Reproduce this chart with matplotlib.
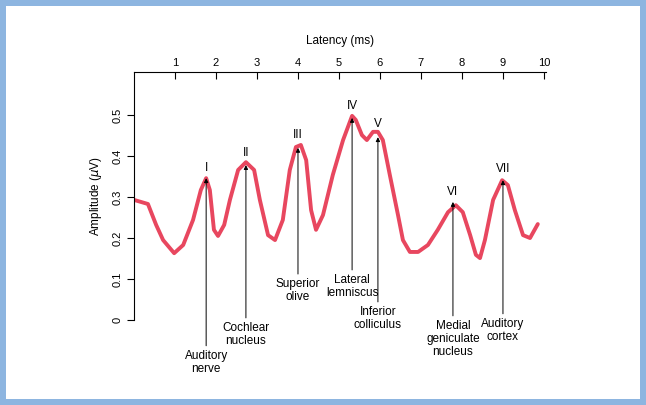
import matplotlib.pyplot as plt
from matplotlib.patches import Rectangle

plt.rcParams['font.family'] = ['Liberation Sans', 'DejaVu Sans']

# waveform
latency = [0, .34, .54, .71, .98, 1.20, 1.44, 1.63, 1.76, 1.85, 1.95, 2.05, 2.20, 2.34, 2.54,
           2.73, 2.93, 3.07, 3.27, 3.44, 3.63, 3.80, 3.95, 4.07, 4.20, 4.32, 4.44, 4.61, 4.85,
           5.10, 5.32, 5.41, 5.56, 5.68, 5.83, 5.95, 6.07, 6.24, 6.44, 6.56, 6.73, 6.93, 7.17,
           7.41, 7.66, 7.85, 8.02, 8.20, 8.34, 8.44, 8.56, 8.76, 8.98, 9.12, 9.29, 9.49, 9.66, 9.85]
amplitude = [.293, .283, .232, .195, .163, .183, .244, .317, .346, .317, .22, .205, .232, .293,
             .366, .385, .366, .293, .207, .195, .244, .366, .422, .427, .39, .268, .22, .256,
             .354, .439, .498, .488, .451, .439, .459, .459, .439, .354, .256, .195, .166, .166,
             .183, .22, .263, .28, .263, .207, .159, .151, .195, .293, .341, .329, .268, .207,
             .2, .234]

peak_names = ['I', 'II', 'III', 'IV', 'V', 'VI', 'VII']
peak_t = [1.76, 2.73, 4.0, 5.32, 5.95, 7.78, 9.0]
peak_label_y = [.371, .407, .451, .522, .478, .312, .368]
peak_tip_y = [.346, .378, .42, .493, .446, .288, .341]
structures = ['Auditory\nnerve', 'Cochlear\nnucleus', 'Superior\nolive', 'Lateral\nlemniscus',
              'Inferior\ncolliculus', 'Medial\ngeniculate\nnucleus', 'Auditory\ncortex']
structure_y = [-.073, -.005, .102, .112, .034, 0.0, .005]

fig = plt.figure(figsize=(6.46, 4.05), dpi=100)
fig.patch.set_facecolor('#8db5e0')
fig.patches.append(Rectangle((6/646, 6/405), 634/646, 393/405, transform=fig.transFigure,
                             facecolor='white', edgecolor='none', zorder=-1))

ax = fig.add_axes([134/646, 1 - 320/405, 412/646, 248/405])
ax.set_zorder(2)
ax.set_facecolor('none')
ax.plot(latency, amplitude, color='#e8475f', lw=2.8, solid_joinstyle='round',
        solid_capstyle='round')

ax.set_xlim(0, 10.05)
ax.set_ylim(0, 0.605)
ax.spines['bottom'].set_visible(False)
ax.spines['right'].set_visible(False)
ax.xaxis.tick_top()
ax.xaxis.set_label_position('top')
ax.set_xticks(range(1, 11))
ax.set_yticks([0, .1, .2, .3, .4, .5])
ax.set_yticklabels(['0', '0.1', '0.2', '0.3', '0.4', '0.5'], rotation=90, va='center')
ax.tick_params(axis='x', direction='in', length=5, labelsize=8, pad=3)
ax.tick_params(axis='y', direction='out', length=5, labelsize=8)
ax.set_xlabel('Latency (ms)', fontsize=8.5, labelpad=10)
ax.set_ylabel('Amplitude ($\\mu$V)', fontsize=8.5, labelpad=6)

for name, t, ly, tip, s, sy in zip(peak_names, peak_t, peak_label_y, peak_tip_y,
                                   structures, structure_y):
    ax.text(t, ly, name, ha='center', va='center', fontsize=8.5)
    ax.annotate(s, xy=(t, tip), xytext=(t, sy), ha='center', va='top', fontsize=8.5,
                linespacing=1.1, annotation_clip=False,
                arrowprops=dict(arrowstyle='-|>', color='black', lw=0.7,
                                mutation_scale=6, shrinkA=1, shrinkB=0))

fig.savefig('out.png', dpi=100, facecolor=fig.get_facecolor())
